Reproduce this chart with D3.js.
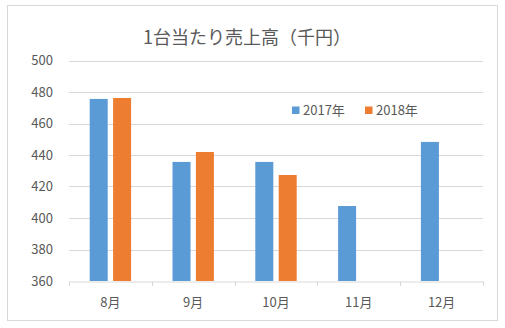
<!DOCTYPE html>
<html><head><meta charset="utf-8">
<script src="https://cdn.jsdelivr.net/npm/d3@7"></script>
<style>html,body{margin:0;padding:0;background:#fff;}svg{display:block;}</style>
</head><body>
<svg id="c" width="505" height="328"></svg>
<script>
const categories = ["8月","9月","10月","11月","12月"];
const seriesNames = ["2017年","2018年"];
const values2017 = [475.6, 435.6, 435.6, 407.6, 448.3];
const values2018 = [476.2, 441.9, 427.3, null, null];
const yTicks = [360,380,400,420,440,460,480,500];
const colors = ["#5B9BD5","#ED7D31"];
const title = "1台当たり売上高（千円）";

const font = "'Noto Sans CJK JP', 'Noto Sans', sans-serif";
const svg = d3.select("#c");
svg.append("rect").attr("x",7.5).attr("y",5.5).attr("width",490).attr("height",315)
  .attr("fill","#fff").attr("stroke","#d9d9d9");

const L=69, R=483, T=60.5, B=281;
const y = d3.scaleLinear().domain([360,500]).range([B,T]);
const x0 = d3.scaleBand().domain(categories).range([L,R]).padding(0);
const groupW = x0.bandwidth()*0.5;
const x1 = d3.scaleBand().domain(seriesNames).range([0,groupW]).paddingInner(0.23).paddingOuter(0);

// gridlines
svg.append("g").selectAll("line").data(yTicks.filter(t=>t!==360)).join("line")
  .attr("x1",L).attr("x2",R).attr("y1",d=>Math.round(y(d))+0.5).attr("y2",d=>Math.round(y(d))+0.5)
  .attr("stroke","#d9d9d9").attr("stroke-width",1);

// y labels
const ya = svg.append("g").attr("transform",`translate(${L},0)`)
  .call(d3.axisLeft(y).tickValues(yTicks).tickSize(0).tickPadding(16));
ya.select(".domain").remove();
ya.selectAll("text").attr("font-family",font).attr("font-size",13).attr("fill","#595959");

// bars
const data = [values2017, values2018];
const g = svg.append("g");
categories.forEach((c,i)=>{
  seriesNames.forEach((s,j)=>{
    const v = data[j][i];
    if(v==null) return;
    g.append("rect")
      .attr("x", x0(c) + (x0.bandwidth()-groupW)/2 + x1(s))
      .attr("width", x1.bandwidth())
      .attr("y", y(v)).attr("height", y(360)-y(v))
      .attr("fill", colors[j]);
  });
});

// x axis
const xa = svg.append("g").attr("transform",`translate(0,${B+0.5})`)
  .call(d3.axisBottom(x0).tickSize(0));
xa.select(".domain").attr("stroke","#d9d9d9");
xa.selectAll("text").attr("font-family",font).attr("font-size",13).attr("fill","#595959")
  .attr("y",25).attr("dy",0);
// category boundary tick marks
const bounds = categories.map(c=>x0(c)).concat([R]);
svg.append("g").selectAll("line").data(bounds).join("line")
  .attr("x1",d=>Math.round(d)+0.5).attr("x2",d=>Math.round(d)+0.5)
  .attr("y1",B+0.5).attr("y2",B+5).attr("stroke","#d9d9d9");

// title
svg.append("text").attr("x",247).attr("y",44).attr("text-anchor","middle")
  .attr("font-family",font).attr("font-size",18).attr("fill","#595959").text(title);

// legend
const lg = svg.append("g");
const legX = [292, 365];
seriesNames.forEach((s,j)=>{
  lg.append("rect").attr("x",legX[j]).attr("y",106.5).attr("width",7.5).attr("height",7.5).attr("fill",colors[j]);
  lg.append("text").attr("x",legX[j]+11).attr("y",114.5).attr("font-family",font).attr("font-size",13)
    .attr("fill","#595959").text(s);
});
</script>
</body></html>
